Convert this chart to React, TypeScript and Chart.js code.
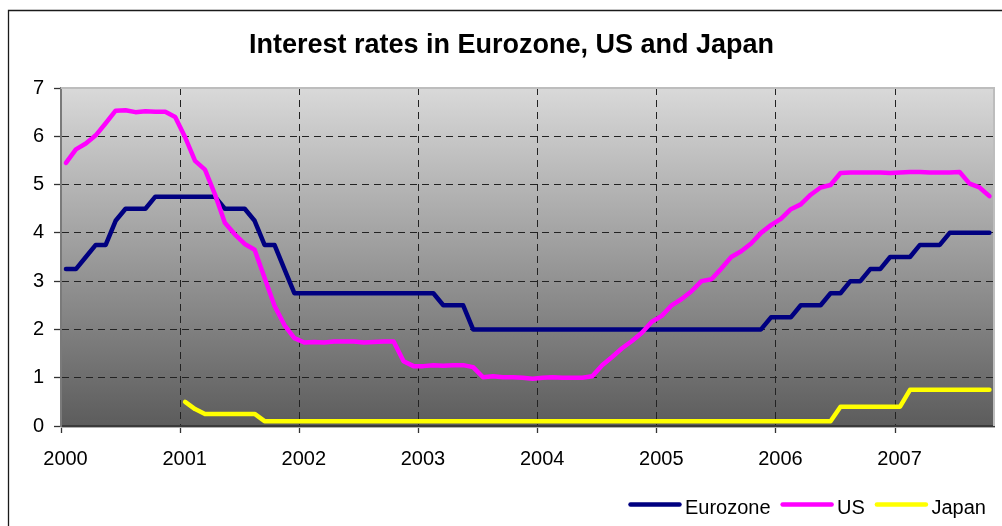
import React, { useEffect, useRef } from "react";
import { Chart, registerables } from "chart.js";

Chart.register(...registerables);

const TITLE = "Interest rates in Eurozone, US and Japan";
const FONT = "'Liberation Sans', Arial, Helvetica, sans-serif";

// Monthly observations, January 2000 to October 2007
const FIRST_YEAR = 2000;
const X_MIN = 2000;
const X_MAX = 2007.83;
const Y_MIN = 0;
const Y_MAX = 7;

const SERIES_NAMES = ["Eurozone", "US", "Japan"];
const SERIES_COLORS = ["#000080", "#FF00FF", "#FFFF00"];

const EUROZONE = [
  3.25, 3.25, 3.5, 3.75, 3.75, 4.25, 4.5, 4.5, 4.5, 4.75, 4.75, 4.75,
  4.75, 4.75, 4.75, 4.75, 4.5, 4.5, 4.5, 4.25, 3.75, 3.75, 3.25, 2.75,
  2.75, 2.75, 2.75, 2.75, 2.75, 2.75, 2.75, 2.75, 2.75, 2.75, 2.75, 2.75,
  2.75, 2.75, 2.5, 2.5, 2.5, 2, 2, 2, 2, 2, 2, 2,
  2, 2, 2, 2, 2, 2, 2, 2, 2, 2, 2, 2,
  2, 2, 2, 2, 2, 2, 2, 2, 2, 2, 2, 2.25,
  2.25, 2.25, 2.5, 2.5, 2.5, 2.75, 2.75, 3, 3, 3.25, 3.25, 3.5,
  3.5, 3.5, 3.75, 3.75, 3.75, 4, 4, 4, 4, 4,
];

const US = [
  5.45, 5.73, 5.85, 6.02, 6.27, 6.53, 6.54, 6.5, 6.52, 6.51, 6.51, 6.4,
  5.98, 5.49, 5.31, 4.8, 4.21, 3.97, 3.77, 3.65, 3.07, 2.49, 2.09, 1.82,
  1.73, 1.74, 1.73, 1.75, 1.75, 1.75, 1.73, 1.74, 1.75, 1.75, 1.34, 1.24,
  1.24, 1.26, 1.25, 1.26, 1.26, 1.22, 1.01, 1.03, 1.01, 1.01, 1.0, 0.98,
  1.0, 1.01, 1.0, 1.0, 1.0, 1.03, 1.26, 1.43, 1.61, 1.76, 1.93, 2.16,
  2.28, 2.5, 2.63, 2.79, 3.0, 3.04, 3.26, 3.5, 3.62, 3.78, 4.0, 4.16,
  4.29, 4.49, 4.59, 4.79, 4.94, 4.99, 5.24, 5.25, 5.25, 5.25, 5.25, 5.24,
  5.25, 5.26, 5.26, 5.25, 5.25, 5.25, 5.26, 5.02, 4.94, 4.76,
];

const JAPAN = [
  null, null, null, null, null, null, null, null, null, null, null, null,
  0.5, 0.35, 0.25, 0.25, 0.25, 0.25, 0.25, 0.25, 0.1, 0.1, 0.1, 0.1,
  0.1, 0.1, 0.1, 0.1, 0.1, 0.1, 0.1, 0.1, 0.1, 0.1, 0.1, 0.1,
  0.1, 0.1, 0.1, 0.1, 0.1, 0.1, 0.1, 0.1, 0.1, 0.1, 0.1, 0.1,
  0.1, 0.1, 0.1, 0.1, 0.1, 0.1, 0.1, 0.1, 0.1, 0.1, 0.1, 0.1,
  0.1, 0.1, 0.1, 0.1, 0.1, 0.1, 0.1, 0.1, 0.1, 0.1, 0.1, 0.1,
  0.1, 0.1, 0.1, 0.1, 0.1, 0.1, 0.4, 0.4, 0.4, 0.4, 0.4, 0.4,
  0.4, 0.75, 0.75, 0.75, 0.75, 0.75, 0.75, 0.75, 0.75, 0.75,
];

const SERIES_VALUES = [EUROZONE, US, JAPAN];

// month index -> decimal year at mid-month
const monthToYear = (i: number) => FIRST_YEAR + (i + 0.5) / 12;

const toPoints = (values: (number | null)[]) =>
  values.map((v, i) => ({ x: monthToYear(i), y: v }));

const backgroundPlugin = {
  id: "excelBackground",
  beforeDraw(chart: any) {
    const { ctx, width, height, chartArea } = chart;
    ctx.save();
    ctx.fillStyle = "#ffffff";
    ctx.fillRect(0, 0, width, height);
    // outer chart border (extends beyond the visible window)
    ctx.strokeStyle = "#1a1a1a";
    ctx.lineWidth = 1.3;
    ctx.beginPath();
    ctx.moveTo(8.5, height + 5);
    ctx.lineTo(8.5, 10.5);
    ctx.lineTo(width + 5, 10.5);
    ctx.stroke();
    // plot area gradient
    const g = ctx.createLinearGradient(0, chartArea.top, 0, chartArea.bottom);
    g.addColorStop(0, "#d9d9d9");
    g.addColorStop(1, "#5c5c5c");
    ctx.fillStyle = g;
    ctx.fillRect(chartArea.left, chartArea.top, chartArea.right - chartArea.left, chartArea.bottom - chartArea.top);
    ctx.restore();
  },
  beforeDatasetsDraw(chart: any) {
    const { ctx, chartArea } = chart;
    ctx.save();
    ctx.strokeStyle = "#bdbdbd";
    ctx.lineWidth = 2;
    ctx.beginPath();
    ctx.moveTo(chartArea.left, chartArea.top);
    ctx.lineTo(chartArea.right, chartArea.top);
    ctx.lineTo(chartArea.right, chartArea.bottom);
    ctx.stroke();
    ctx.strokeStyle = "#b0b0b0";
    ctx.lineWidth = 1;
    ctx.beginPath();
    ctx.moveTo(chartArea.left, chartArea.bottom + 1.5);
    ctx.lineTo(chartArea.right + 1, chartArea.bottom + 1.5);
    ctx.stroke();
    ctx.restore();
  },
  afterDraw(chart: any) {
    const { ctx } = chart;
    ctx.save();
    // title
    ctx.fillStyle = "#000000";
    ctx.font = `bold 27px ${FONT}`;
    ctx.textAlign = "center";
    ctx.textBaseline = "alphabetic";
    ctx.fillText(TITLE, 511.5, 53);
    // legend
    ctx.font = `20px ${FONT}`;
    ctx.textAlign = "left";
    let x = 629.5;
    const lineY = 504.5;
    const baseY = 513.5;
    chart.data.datasets.forEach((ds: any) => {
      ctx.strokeStyle = ds.borderColor;
      ctx.lineWidth = 4.5;
      ctx.lineCap = "round";
      ctx.beginPath();
      ctx.moveTo(x + 1, lineY);
      ctx.lineTo(x + 50, lineY);
      ctx.stroke();
      x += 55.5;
      ctx.fillStyle = "#000000";
      ctx.fillText(ds.label, x, baseY);
      x += ctx.measureText(ds.label).width + 11;
    });
    ctx.restore();
  },
};

export default function App() {
  const canvasRef = useRef<HTMLCanvasElement | null>(null);

  useEffect(() => {
    const canvas = canvasRef.current;
    if (!canvas) return;
    const chart = new Chart(canvas, {
      type: "line",
      data: {
        datasets: SERIES_NAMES.map((name, k) => ({
          label: name,
          data: toPoints(SERIES_VALUES[k]),
          borderColor: SERIES_COLORS[k],
          backgroundColor: SERIES_COLORS[k],
          borderWidth: 4.5,
          pointRadius: 0,
          pointHoverRadius: 0,
          tension: 0,
          fill: false,
          spanGaps: false,
          borderJoinStyle: "round",
          borderCapStyle: "round",
          order: 3 - k,
        })),
      },
      options: {
        responsive: false,
        animation: false,
        devicePixelRatio: 1,
        events: [],
        layout: { padding: { left: 0, right: 8, top: 88, bottom: 0 } },
        plugins: {
          legend: { display: false },
          title: { display: false },
          tooltip: { enabled: false },
        },
        scales: {
          x: {
            type: "linear",
            min: X_MIN,
            max: X_MAX,
            afterFit: (scale: any) => {
              scale.height = 100;
            },
            ticks: {
              stepSize: 1,
              includeBounds: false,
              autoSkip: false,
              maxRotation: 0,
              minRotation: 0,
              labelOffset: 4.5,
              padding: 14,
              color: "#000000",
              font: { family: FONT, size: 20 },
              callback: (v: any) => String(v),
            },
            grid: {
              color: "#222222",
              lineWidth: 1,
              tickLength: 7,
              tickColor: "#333333",
              tickWidth: 1.3,
              tickBorderDash: [],
            },
            border: { display: true, color: "#3a3a3a", width: 2, dash: [7, 5] },
          },
          y: {
            min: Y_MIN,
            max: Y_MAX,
            afterFit: (scale: any) => {
              scale.width = 61;
            },
            ticks: {
              stepSize: 1,
              padding: 10,
              color: "#000000",
              font: { family: FONT, size: 20 },
            },
            grid: {
              color: "#222222",
              lineWidth: 1,
              tickLength: 7,
              tickColor: "#333333",
              tickWidth: 1.3,
              tickBorderDash: [],
            },
            border: { display: true, color: "#7a7a7a", width: 2, dash: [7, 5] },
          },
        },
      },
      plugins: [backgroundPlugin],
    });
    return () => chart.destroy();
  }, []);

  return (
    <div
      style={{
        position: "absolute",
        left: 0,
        top: 0,
        width: 1002,
        height: 526,
        overflow: "hidden",
        background: "#ffffff",
      }}
    >
      <canvas ref={canvasRef} width={1002} height={526} style={{ display: "block", width: 1002, height: 526 }} />
    </div>
  );
}
